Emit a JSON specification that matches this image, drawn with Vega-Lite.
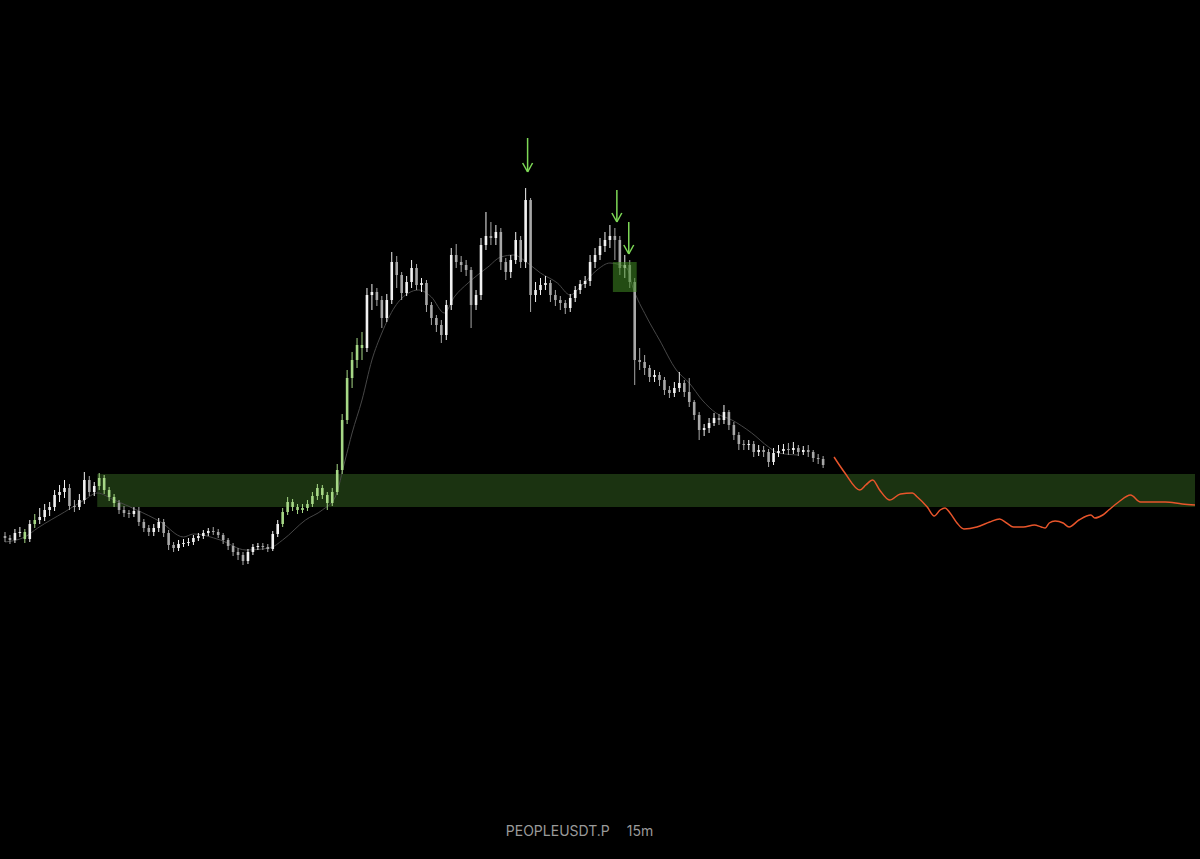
{
"$schema": "https://vega.github.io/schema/vega-lite/v6.json",
"width": 1200, "height": 859,
"autosize": {"type": "fit", "contains": "padding"},
"padding": 0,
"background": "#000000",
"config": {"view": {"stroke": null}},
"datasets": {
"candles": [
{"t":0,"o":364,"c":362,"h":368,"l":358},{"t":1,"o":362,"c":360,"h":365,"l":356},{"t":2,"o":360,"c":367,"h":371,"l":357},{"t":3,"o":367,"c":368,"h":373,"l":363},{"t":4,"o":368,"c":361,"h":371,"l":357,"hl":1},{"t":5,"o":361,"c":376,"h":380,"l":358},{"t":6,"o":376,"c":380,"h":386,"l":372,"hl":1},{"t":7,"o":380,"c":383,"h":392,"l":376},{"t":8,"o":383,"c":390,"h":396,"l":379},{"t":9,"o":390,"c":393,"h":398,"l":384},
{"t":10,"o":393,"c":405,"h":410,"l":389},{"t":11,"o":405,"c":408,"h":415,"l":398},{"t":12,"o":408,"c":412,"h":420,"l":402},{"t":13,"o":412,"c":394,"h":416,"l":390},{"t":14,"o":394,"c":393,"h":400,"l":388},{"t":15,"o":393,"c":400,"h":406,"l":390},{"t":16,"o":400,"c":420,"h":428,"l":396},{"t":17,"o":420,"c":408,"h":424,"l":404},{"t":18,"o":408,"c":414,"h":418,"l":404},{"t":19,"o":414,"c":422,"h":427,"l":410,"hl":1},
{"t":20,"o":422,"c":410,"h":425,"l":406,"hl":1},{"t":21,"o":410,"c":403,"h":413,"l":399,"hl":1},{"t":22,"o":403,"c":397,"h":406,"l":393,"hl":1},{"t":23,"o":397,"c":390,"h":400,"l":386},{"t":24,"o":390,"c":387,"h":394,"l":383},{"t":25,"o":387,"c":386,"h":390,"l":382},{"t":26,"o":386,"c":389,"h":393,"l":383},{"t":27,"o":389,"c":378,"h":393,"l":374},{"t":28,"o":378,"c":372,"h":381,"l":368},{"t":29,"o":372,"c":368,"h":375,"l":364},
{"t":30,"o":368,"c":372,"h":376,"l":364},{"t":31,"o":372,"c":378,"h":382,"l":368},{"t":32,"o":378,"c":367,"h":381,"l":363},{"t":33,"o":367,"c":355,"h":370,"l":350},{"t":34,"o":355,"c":352,"h":358,"l":348},{"t":35,"o":352,"c":356,"h":360,"l":349},{"t":36,"o":356,"c":357,"h":361,"l":353},{"t":37,"o":357,"c":358,"h":362,"l":354},{"t":38,"o":358,"c":362,"h":365,"l":355},{"t":39,"o":362,"c":364,"h":367,"l":359},
{"t":40,"o":364,"c":367,"h":370,"l":361},{"t":41,"o":367,"c":369,"h":372,"l":364},{"t":42,"o":369,"c":368,"h":373,"l":365},{"t":43,"o":368,"c":365,"h":371,"l":362},{"t":44,"o":365,"c":360,"h":367,"l":356},{"t":45,"o":360,"c":354,"h":362,"l":350},{"t":46,"o":354,"c":348,"h":357,"l":344},{"t":47,"o":348,"c":345,"h":352,"l":340},{"t":48,"o":345,"c":339,"h":348,"l":335},{"t":49,"o":339,"c":348,"h":351,"l":336},
{"t":50,"o":348,"c":353,"h":356,"l":345},{"t":51,"o":353,"c":354,"h":357,"l":350},{"t":52,"o":354,"c":353,"h":357,"l":350},{"t":53,"o":353,"c":351,"h":356,"l":348},{"t":54,"o":351,"c":366,"h":369,"l":349},{"t":55,"o":366,"c":376,"h":380,"l":363},{"t":56,"o":376,"c":388,"h":392,"l":373,"hl":1},{"t":57,"o":388,"c":398,"h":403,"l":385,"hl":1},{"t":58,"o":398,"c":393,"h":401,"l":389,"hl":1},{"t":59,"o":393,"c":390,"h":396,"l":386,"hl":1},
{"t":60,"o":390,"c":392,"h":396,"l":387,"hl":1},{"t":61,"o":392,"c":396,"h":400,"l":389,"hl":1},{"t":62,"o":396,"c":404,"h":408,"l":393,"hl":1},{"t":63,"o":404,"c":412,"h":416,"l":400,"hl":1},{"t":64,"o":412,"c":405,"h":415,"l":401,"hl":1},{"t":65,"o":405,"c":397,"h":408,"l":390,"hl":1},{"t":66,"o":397,"c":408,"h":412,"l":394,"hl":1},{"t":67,"o":408,"c":430,"h":436,"l":405,"hl":1},{"t":68,"o":430,"c":480,"h":486,"l":426,"hl":1},{"t":69,"o":480,"c":522,"h":530,"l":476,"hl":1},
{"t":70,"o":522,"c":540,"h":548,"l":512,"hl":1},{"t":71,"o":540,"c":555,"h":562,"l":532,"hl":1},{"t":72,"o":555,"c":552,"h":568,"l":540,"hl":1},{"t":73,"o":552,"c":605,"h":612,"l":548},{"t":74,"o":605,"c":608,"h":616,"l":590},{"t":75,"o":608,"c":600,"h":612,"l":594},{"t":76,"o":600,"c":582,"h":604,"l":572},{"t":77,"o":582,"c":600,"h":606,"l":578},{"t":78,"o":600,"c":638,"h":648,"l":596},{"t":79,"o":638,"c":625,"h":644,"l":612},
{"t":80,"o":625,"c":607,"h":628,"l":600},{"t":81,"o":607,"c":618,"h":624,"l":604},{"t":82,"o":618,"c":632,"h":640,"l":612},{"t":83,"o":632,"c":615,"h":636,"l":610},{"t":84,"o":615,"c":617,"h":622,"l":608},{"t":85,"o":617,"c":595,"h":620,"l":588},{"t":86,"o":595,"c":582,"h":598,"l":575},{"t":87,"o":582,"c":575,"h":585,"l":568},{"t":88,"o":575,"c":565,"h":580,"l":557},{"t":89,"o":565,"c":595,"h":600,"l":560},
{"t":90,"o":595,"c":645,"h":652,"l":590},{"t":91,"o":645,"c":638,"h":656,"l":632},{"t":92,"o":638,"c":635,"h":644,"l":628},{"t":93,"o":635,"c":630,"h":640,"l":624},{"t":94,"o":630,"c":595,"h":633,"l":572},{"t":95,"o":595,"c":605,"h":610,"l":590},{"t":96,"o":605,"c":655,"h":662,"l":600},{"t":97,"o":655,"c":664,"h":688,"l":650},{"t":98,"o":664,"c":662,"h":678,"l":655},{"t":99,"o":662,"c":668,"h":675,"l":655},
{"t":100,"o":668,"c":638,"h":672,"l":630},{"t":101,"o":638,"c":628,"h":642,"l":620},{"t":102,"o":628,"c":640,"h":645,"l":622},{"t":103,"o":640,"c":660,"h":668,"l":636},{"t":104,"o":660,"c":638,"h":664,"l":632},{"t":105,"o":638,"c":700,"h":712,"l":632},{"t":106,"o":700,"c":605,"h":702,"l":588},{"t":107,"o":605,"c":610,"h":618,"l":598},{"t":108,"o":610,"c":615,"h":622,"l":605},{"t":109,"o":615,"c":617,"h":624,"l":610},
{"t":110,"o":617,"c":605,"h":620,"l":598},{"t":111,"o":605,"c":600,"h":610,"l":594},{"t":112,"o":600,"c":597,"h":604,"l":590},{"t":113,"o":597,"c":592,"h":600,"l":586},{"t":114,"o":592,"c":602,"h":606,"l":588},{"t":115,"o":602,"c":610,"h":614,"l":598},{"t":116,"o":610,"c":616,"h":620,"l":606},{"t":117,"o":616,"c":619,"h":624,"l":612},{"t":118,"o":619,"c":638,"h":645,"l":614},{"t":119,"o":638,"c":645,"h":652,"l":632},
{"t":120,"o":645,"c":654,"h":662,"l":640},{"t":121,"o":654,"c":660,"h":668,"l":648},{"t":122,"o":660,"c":664,"h":675,"l":652},{"t":123,"o":664,"c":660,"h":672,"l":640},{"t":124,"o":660,"c":632,"h":664,"l":625},{"t":125,"o":632,"c":635,"h":645,"l":622},{"t":126,"o":635,"c":618,"h":640,"l":612},{"t":127,"o":618,"c":540,"h":622,"l":515},{"t":128,"o":540,"c":538,"h":552,"l":530},{"t":129,"o":538,"c":532,"h":545,"l":525},
{"t":130,"o":532,"c":523,"h":535,"l":518},{"t":131,"o":523,"c":525,"h":530,"l":518},{"t":132,"o":525,"c":520,"h":528,"l":514},{"t":133,"o":520,"c":510,"h":523,"l":505},{"t":134,"o":510,"c":507,"h":514,"l":502},{"t":135,"o":507,"c":512,"h":518,"l":503},{"t":136,"o":512,"c":517,"h":528,"l":508},{"t":137,"o":517,"c":508,"h":520,"l":503},{"t":138,"o":508,"c":498,"h":522,"l":493},{"t":139,"o":498,"c":485,"h":500,"l":480},
{"t":140,"o":485,"c":470,"h":488,"l":460},{"t":141,"o":470,"c":472,"h":476,"l":464},{"t":142,"o":472,"c":477,"h":482,"l":467},{"t":143,"o":477,"c":482,"h":487,"l":474},{"t":144,"o":482,"c":480,"h":486,"l":475},{"t":145,"o":480,"c":488,"h":495,"l":476},{"t":146,"o":488,"c":475,"h":490,"l":470},{"t":147,"o":475,"c":465,"h":478,"l":460},{"t":148,"o":465,"c":456,"h":468,"l":450},{"t":149,"o":456,"c":455,"h":460,"l":450},
{"t":150,"o":455,"c":456,"h":460,"l":450},{"t":151,"o":456,"c":448,"h":459,"l":443},{"t":152,"o":448,"c":450,"h":455,"l":444},{"t":153,"o":450,"c":448,"h":454,"l":443},{"t":154,"o":448,"c":438,"h":451,"l":433},{"t":155,"o":438,"c":447,"h":452,"l":435},{"t":156,"o":447,"c":449,"h":455,"l":443},{"t":157,"o":449,"c":451,"h":456,"l":446},{"t":158,"o":451,"c":450,"h":457,"l":445},{"t":159,"o":450,"c":452,"h":458,"l":446},
{"t":160,"o":452,"c":448,"h":455,"l":444},{"t":161,"o":448,"c":450,"h":454,"l":445},{"t":162,"o":450,"c":448,"h":455,"l":443},{"t":163,"o":448,"c":442,"h":450,"l":438},{"t":164,"o":442,"c":441,"h":446,"l":436},{"t":165,"o":441,"c":435,"h":444,"l":432}
],
"ma": [
{"t":0,"v":358},{"t":4,"v":363},{"t":6.6,"v":372},{"t":12,"v":388},{"t":16,"v":400},{"t":18.6,"v":407},{"t":22,"v":400},{"t":26.6,"v":390},{"t":31.4,"v":378},{"t":36,"v":363},{"t":38,"v":366},{"t":43.4,"v":360},{"t":48.6,"v":350},{"t":53.4,"v":352},{"t":56,"v":360},{"t":60.6,"v":380},{"t":64,"v":390},{"t":66.6,"v":403},{"t":68.6,"v":440},{"t":70,"v":467},{"t":72,"v":500},{"t":74,"v":540},{"t":76,"v":567},{"t":78.6,"v":593},{"t":81.4,"v":607},{"t":83.4,"v":610},{"t":86,"v":603},{"t":88.6,"v":587},{"t":90.6,"v":603},{"t":93.4,"v":617},{"t":97.4,"v":633},{"t":100,"v":643},{"t":102.6,"v":645},{"t":105.4,"v":637},{"t":108,"v":627},{"t":111.4,"v":617},{"t":114,"v":605},{"t":116,"v":613},{"t":119.4,"v":630},{"t":122,"v":637},{"t":125.4,"v":632},{"t":126.6,"v":613},{"t":129.4,"v":583},{"t":132,"v":560},{"t":135.4,"v":530},{"t":138,"v":517},{"t":140.6,"v":500},{"t":143.4,"v":487},{"t":146.6,"v":480},{"t":150.6,"v":467},{"t":154,"v":453},{"t":156,"v":447},{"t":160,"v":445}
],
"forecast": [
{"t":167.2,"v":443},{"t":169.4,"v":427},{"t":172.4,"v":410},{"t":173.6,"v":415},{"t":175,"v":420},{"t":176.4,"v":410},{"t":178.4,"v":400},{"t":180.6,"v":406},{"t":183,"v":407},{"t":184,"v":403},{"t":186,"v":393},{"t":187.4,"v":384},{"t":188.6,"v":390},{"t":189.6,"v":392},{"t":190.6,"v":387},{"t":192,"v":377},{"t":193.4,"v":371},{"t":196,"v":373},{"t":198.6,"v":378},{"t":200.6,"v":381},{"t":202,"v":377},{"t":203.4,"v":373},{"t":205.4,"v":373},{"t":207.6,"v":375},{"t":209,"v":373},{"t":209.8,"v":372},{"t":210.6,"v":377},{"t":211.8,"v":379},{"t":213.4,"v":377},{"t":214.6,"v":373},{"t":216.6,"v":380},{"t":219,"v":385},{"t":219.8,"v":382},{"t":221.4,"v":385},{"t":222.6,"v":390},{"t":224.6,"v":398},{"t":227,"v":405},{"t":229,"v":398},{"t":230.6,"v":398},{"t":234,"v":398},{"t":237.4,"v":396},{"t":240,"v":395}
],
"arrows": [
{"t":105.4,"v":762,"t2":105.4,"v2":728},{"t":104.4,"v":737,"t2":105.4,"v2":728},{"t":106.4,"v":737,"t2":105.4,"v2":728},
{"t":123.4,"v":710,"t2":123.4,"v2":678},{"t":122.4,"v":687,"t2":123.4,"v2":678},{"t":124.4,"v":687,"t2":123.4,"v2":678},
{"t":125.8,"v":678,"t2":125.8,"v2":646},{"t":124.8,"v":655,"t2":125.8,"v2":646},{"t":126.8,"v":655,"t2":125.8,"v2":646}
],
"labels": [
{"label":"PEOPLEUSDT.P","t":101,"v":68},{"label":"15m","t":125.4,"v":68}
]
},
"layer": [
{
"data": {"values": [{"t":18.6,"t2":240,"v":426,"v2":393}]},
"mark": {"type": "rect", "color": "#1b3311"},
"encoding": {
"x": {"field": "t", "type": "quantitative", "scale": {"domain": [0, 240], "nice": false, "zero": false}, "axis": null},
"x2": {"field": "t2"},
"y": {"field": "v", "type": "quantitative", "scale": {"domain": [41, 900], "nice": false, "zero": false}, "axis": null},
"y2": {"field": "v2"}
}
},
{
"data": {"name": "ma"},
"mark": {"type": "line", "color": "#474747", "strokeWidth": 1, "interpolate": "monotone"},
"encoding": {
"x": {"field": "t", "type": "quantitative", "axis": null},
"y": {"field": "v", "type": "quantitative", "axis": null}
}
},
{
"data": {"name": "candles"},
"mark": {"type": "rule", "strokeWidth": 1},
"encoding": {
"x": {"field": "t", "type": "quantitative", "axis": null},
"y": {"field": "l", "type": "quantitative", "axis": null},
"y2": {"field": "h"},
"color": {"condition": [{"test": "datum.hl == 1", "value": "#a6d886"}, {"test": "datum.c >= datum.o", "value": "#f2f2f2"}], "value": "#a8a8a8"}
}
},
{
"data": {"name": "candles"},
"mark": {"type": "bar", "size": 2.6},
"encoding": {
"x": {"field": "t", "type": "quantitative", "axis": null},
"y": {"field": "o", "type": "quantitative", "axis": null},
"y2": {"field": "c"},
"color": {"condition": [{"test": "datum.hl == 1", "value": "#a6d886"}, {"test": "datum.c >= datum.o", "value": "#f2f2f2"}], "value": "#a8a8a8"}
}
},
{
"data": {"values": [{"t":122.6,"t2":127.4,"v":638,"v2":608}]},
"mark": {"type": "rect", "color": "#3f8a22", "opacity": 0.55},
"encoding": {
"x": {"field": "t", "type": "quantitative", "axis": null},
"x2": {"field": "t2"},
"y": {"field": "v", "type": "quantitative", "axis": null},
"y2": {"field": "v2"}
}
},
{
"data": {"name": "forecast"},
"mark": {"type": "line", "color": "#e8552b", "strokeWidth": 1.5, "interpolate": "monotone"},
"encoding": {
"x": {"field": "t", "type": "quantitative", "axis": null},
"y": {"field": "v", "type": "quantitative", "axis": null}
}
},
{
"data": {"name": "arrows"},
"mark": {"type": "rule", "color": "#7ed957", "strokeWidth": 1.5},
"encoding": {
"x": {"field": "t", "type": "quantitative", "axis": null},
"x2": {"field": "t2"},
"y": {"field": "v", "type": "quantitative", "axis": null},
"y2": {"field": "v2"}
}
},
{
"data": {"name": "labels"},
"mark": {"type": "text", "align": "left", "baseline": "middle", "font": "Inter", "fontSize": 14, "color": "#9a9a9a"},
"encoding": {
"x": {"field": "t", "type": "quantitative", "axis": null},
"y": {"field": "v", "type": "quantitative", "axis": null},
"text": {"field": "label"}
}
}
]
}
